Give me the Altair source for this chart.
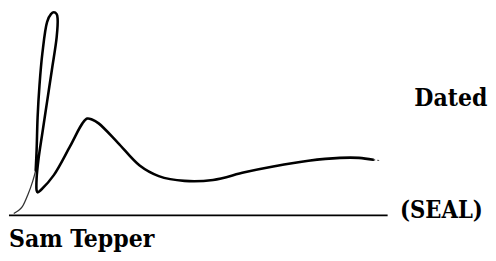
import altair as alt
import pandas as pd

sig_x = [31, 32, 33, 35, 38, 43, 47, 50, 53, 54, 53, 48, 43, 38, 34, 32, 32, 33, 37, 50, 67, 80, 85, 90, 97, 117, 140, 160, 187, 217, 250, 280, 317, 350, 370, 385]
sig_y = [172, 150, 117, 83, 50, 17, 9, 7, 9, 14, 33, 67, 100, 133, 160, 180, 193, 195, 192, 177, 147, 123, 118, 119, 123, 143, 167, 178, 183, 182, 174, 168, 162, 159, 159, 161]

tail_x = [8, 13, 17, 23, 28, 31]
tail_y = [217, 214, 210, 197, 183, 172]

end_x = [385, 393]
end_y = [161, 162]

rule_x = [3]
rule_x2 = [400]
rule_y = [219]

labels = ["Dated", "(SEAL)", "Sam Tepper"]
label_x = [428, 413, 3]
label_y = [105, 222, 252]
sizes = [25, 24, 25]

xs = alt.Scale(domain=[3, 497], nice=False, zero=False)
ys = alt.Scale(domain=[7, 258], nice=False, zero=False, reverse=True)

sig = pd.DataFrame({"x": sig_x, "y": sig_y, "i": range(len(sig_x))})
tail = pd.DataFrame({"x": tail_x, "y": tail_y, "i": range(len(tail_x))})
end = pd.DataFrame({"x": end_x, "y": end_y, "i": range(len(end_x))})
rule = pd.DataFrame({"x": rule_x, "x2": rule_x2, "y": rule_y})

X = lambda f="x": alt.X(f"{f}:Q", scale=xs, axis=None)
Y = lambda f="y": alt.Y(f"{f}:Q", scale=ys, axis=None)

main = alt.Chart(sig).mark_line(
    color="black", strokeWidth=2.6, interpolate="catmull-rom", clip=False,
    strokeCap="round", strokeJoin="round"
).encode(x=X(), y=Y(), order="i:Q")

lead = alt.Chart(tail).mark_line(
    color="#333333", strokeWidth=1.3, interpolate="catmull-rom", clip=False
).encode(x=X(), y=Y(), order="i:Q")

trail = alt.Chart(end).mark_line(
    color="#555555", strokeWidth=1.2, strokeDash=[2, 2], clip=False
).encode(x=X(), y=Y(), order="i:Q")

rl = alt.Chart(rule).mark_rule(color="black", strokeWidth=2).encode(
    x=X(), x2="x2:Q", y=Y()
)

layers = [lead, main, trail, rl]
for t, x, y, s in zip(labels, label_x, label_y, sizes):
    d = pd.DataFrame({"t": [t], "x": [x], "y": [y]})
    layers.append(alt.Chart(d).mark_text(
        align="left", baseline="alphabetic", font="DejaVu Serif Condensed",
        fontSize=s, fontWeight="bold", color="black", clip=False
    ).encode(x=X(), y=Y(), text="t:N"))

chart = alt.layer(*layers).properties(
    width=480, height=245, padding=0, background="white"
).configure_view(stroke=None)

chart.save("out.html", embed_options={"renderer": "svg", "actions": False})
